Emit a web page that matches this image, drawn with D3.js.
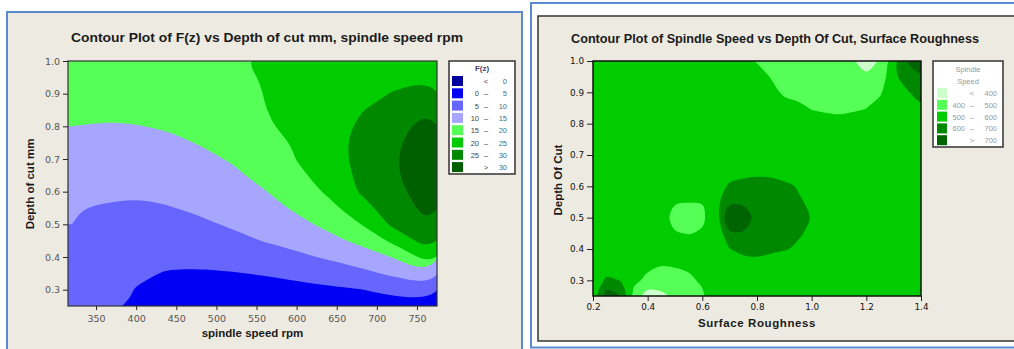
<!DOCTYPE html>
<html>
<head>
<meta charset="utf-8">
<script src="https://cdn.jsdelivr.net/npm/d3@7"></script>
<style>
  body { margin: 0; background: #fff; }
  svg { display: block; }
</style>
</head>
<body>
<svg id="chart" width="1014" height="349"></svg>
<script>
// ---------- left chart: F(z) vs depth of cut, spindle speed ----------
// grid columns (spindle speed rpm) and rows (depth of cut mm, top row first)
const fzSpeeds = [320, 360, 400, 440, 480, 520, 560, 600, 640, 680, 720, 760];
const fzDepths = [1.00, 0.95, 0.90, 0.85, 0.80, 0.75, 0.70, 0.65, 0.60, 0.55, 0.50, 0.45, 0.40, 0.35, 0.30, 0.25];
const fzGrid = [
  [17.0, 17.5, 18.0, 18.5, 19.0, 19.6, 20.5, 22.0, 23.0, 23.5, 24.0, 22.8],
  [16.5, 16.8, 17.2, 17.7, 18.2, 18.9, 20.3, 21.7, 23.1, 23.9, 24.5, 24.4],
  [16.0, 16.2, 16.5, 16.9, 17.5, 18.2, 20.1, 21.4, 23.2, 24.3, 25.1, 26.7],
  [15.5, 15.5, 15.7, 16.1, 16.7, 17.5, 19.9, 21.1, 23.3, 24.8, 27.0, 29.5],
  [15.0, 14.8, 14.9, 15.3, 16.0, 16.8, 19.7, 20.7, 23.5, 25.5, 28.4, 31.2],
  [14.1, 13.7, 13.8, 14.3, 15.2, 16.1, 18.5, 20.4, 23.5, 26.0, 29.2, 32.0],
  [13.2, 12.6, 12.7, 13.2, 14.2, 15.3, 17.3, 20.1, 23.1, 26.2, 29.5, 32.4],
  [12.2, 11.6, 11.6, 12.1, 13.0, 14.3, 16.1, 18.9, 22.2, 26.0, 29.4, 32.2],
  [11.2, 10.5, 10.4, 10.9, 11.8, 13.1, 14.8, 17.3, 20.8, 25.5, 28.8, 31.6],
  [10.1,  9.8,  9.4,  9.8, 10.7, 11.8, 13.3, 15.7, 18.6, 22.9, 27.8, 30.8],
  [10.0,  9.3,  8.5,  8.5,  9.3, 10.5, 11.7, 13.7, 16.2, 20.0, 26.0, 29.6],
  [ 9.4,  8.8,  7.6,  7.3,  7.7,  8.8, 10.2, 11.5, 13.6, 16.2, 21.1, 26.8],
  [ 8.9,  8.4,  6.7,  6.0,  6.1,  6.8,  7.8,  9.1, 10.6, 12.5, 15.2, 21.5],
  [ 8.4,  7.9,  5.7,  4.7,  4.6,  4.8,  5.3,  6.1,  7.2,  8.8, 10.9, 14.3],
  [ 8.0,  7.5,  4.8,  3.4,  3.0,  3.1,  3.3,  3.8,  4.3,  4.9,  6.0,  7.5],
  [ 7.5,  7.0,  4.0,  2.0,  1.5,  1.3,  1.5,  2.0,  2.5,  3.0,  3.5,  3.0]
];
const fzLevels = [0, 5, 10, 15, 20, 25, 30];
const fzColors = ["#00009c", "#0000f5", "#6666ff", "#a6a6ff", "#55ff55", "#00cc00", "#008800", "#006000"];
const fzSpeedTicks = [350, 400, 450, 500, 550, 600, 650, 700, 750];
const fzDepthTicks = [0.3, 0.4, 0.5, 0.6, 0.7, 0.8, 0.9, 1.0];

// ---------- right chart: spindle speed vs depth of cut, surface roughness ----------
const ssRough = [0.20, 0.25, 0.30, 0.35, 0.40, 0.45, 0.50, 0.55, 0.60, 0.65, 0.70, 0.75, 0.80,
                 0.85, 0.90, 0.95, 1.00, 1.05, 1.10, 1.15, 1.20, 1.25, 1.30, 1.35, 1.40];
const ssDepths = [1.00, 0.95, 0.90, 0.85, 0.80, 0.75, 0.70, 0.65, 0.60, 0.55, 0.50, 0.45, 0.40, 0.35, 0.30, 0.25];
const ssGrid = [
  [550, 550, 550, 550, 550, 550, 550, 550, 550, 550, 550, 540, 490, 460, 445, 435, 425, 415, 410, 405, 380, 405, 560, 705, 790],
  [550, 550, 550, 550, 550, 550, 550, 550, 550, 550, 550, 550, 550, 495, 465, 450, 440, 430, 425, 418, 410, 440, 575, 650, 677],
  [550, 550, 550, 550, 550, 550, 550, 550, 550, 550, 550, 550, 550, 540, 480, 470, 460, 455, 450, 452, 460, 490, 560, 590, 650],
  [550, 550, 550, 550, 550, 550, 550, 550, 550, 550, 550, 550, 550, 550, 550, 520, 495, 485, 480, 488, 499, 530, 555, 575, 570],
  [550, 550, 550, 550, 550, 550, 550, 550, 550, 550, 550, 550, 550, 550, 550, 550, 540, 535, 530, 535, 540, 550, 550, 550, 550],
  [550, 550, 550, 550, 550, 550, 550, 550, 550, 550, 550, 550, 550, 550, 550, 550, 550, 550, 550, 550, 550, 550, 550, 550, 550],
  [550, 550, 550, 550, 550, 550, 550, 550, 550, 550, 550, 550, 550, 550, 550, 550, 550, 550, 550, 550, 550, 550, 550, 550, 550],
  [550, 550, 550, 550, 550, 550, 550, 550, 550, 550, 555, 552, 572, 567, 535, 545, 550, 550, 550, 550, 550, 550, 550, 550, 550],
  [550, 550, 550, 550, 550, 550, 550, 550, 550, 550, 615, 648, 645, 642, 628, 590, 560, 550, 550, 550, 550, 550, 550, 550, 550],
  [550, 550, 550, 550, 550, 540, 505, 502, 502, 568, 674, 680, 655, 648, 640, 618, 575, 550, 550, 550, 550, 550, 550, 550, 550],
  [550, 550, 550, 550, 550, 530, 480, 460, 490, 540, 800, 760, 660, 650, 645, 632, 595, 560, 550, 550, 550, 550, 550, 550, 550],
  [550, 550, 550, 550, 550, 535, 505, 497, 507, 520, 680, 690, 650, 640, 630, 612, 580, 555, 550, 550, 550, 550, 550, 550, 550],
  [550, 550, 550, 550, 550, 550, 550, 550, 550, 530, 598, 625, 630, 625, 608, 585, 560, 550, 550, 550, 550, 550, 550, 550, 550],
  [550, 547, 545, 545, 530, 503, 506, 512, 530, 550, 555, 562, 570, 542, 528, 550, 550, 550, 550, 550, 550, 550, 550, 550, 550],
  [540, 615, 598, 530, 470, 470, 475, 488, 510, 545, 550, 550, 550, 550, 550, 550, 550, 550, 550, 550, 550, 550, 550, 550, 550],
  [519, 757, 697, 457, 355, 370, 430, 470, 490, 540, 550, 550, 550, 550, 550, 550, 550, 550, 550, 550, 550, 550, 550, 550, 550]
];
const ssLevels = [400, 500, 600, 700];
const ssColors = ["#ccffcc", "#55ff55", "#00cc00", "#008800", "#006400"];
const ssRoughTicks = [0.2, 0.4, 0.6, 0.8, 1.0, 1.2, 1.4];
const ssDepthTicks = [0.3, 0.4, 0.5, 0.6, 0.7, 0.8, 0.9, 1.0];

const W = 1014, H = 349;
const beige = "#edeae1";
const frameBlue = "#5a8ad0";

const svg = d3.select("#chart");
svg.append("rect").attr("width", W).attr("height", H).attr("fill", "#fff");

// panel frames
svg.append("rect")
  .attr("x", 7).attr("y", 12).attr("width", 515).attr("height", 350)
  .attr("fill", beige).attr("stroke", frameBlue).attr("stroke-width", 2);
svg.append("rect")
  .attr("x", 531).attr("y", 3).attr("width", 500).attr("height", 344.5)
  .attr("fill", "#fff").attr("stroke", frameBlue).attr("stroke-width", 2);
svg.append("rect")
  .attr("x", 538).attr("y", 16).attr("width", 490).attr("height", 325)
  .attr("fill", beige).attr("stroke", "#333").attr("stroke-width", 1.5);

// filled contour plot from a grid of values
function contourPlot(o) {
  const x = d3.scaleLinear().domain(o.xDomain).range([o.left, o.right]);
  const y = d3.scaleLinear().domain(o.yDomain).range([o.bottom, o.top]);
  const ny = o.grid.length, nx = o.grid[0].length;
  // d3.contours puts value i at grid coordinate i + 0.5
  const gx = d3.scaleLinear().domain([0.5, nx - 0.5]).range([o.gridX[0], o.gridX[nx - 1]]);
  const gy = d3.scaleLinear().domain([0.5, ny - 0.5]).range([o.gridY[0], o.gridY[ny - 1]]);
  const bands = d3.contours().size([nx, ny]).thresholds(o.levels)(o.grid.flat());
  const ring = d3.line()
    .x(p => x(gx(p[0])))
    .y(p => y(gy(p[1])))
    .curve(o.curve);

  svg.append("clipPath").attr("id", "clip-" + o.id)
    .append("rect")
    .attr("x", o.left).attr("y", o.top)
    .attr("width", o.right - o.left).attr("height", o.bottom - o.top);

  const plot = svg.append("g").attr("clip-path", `url(#clip-${o.id})`);
  plot.append("rect")
    .attr("x", o.left).attr("y", o.top)
    .attr("width", o.right - o.left).attr("height", o.bottom - o.top)
    .attr("fill", o.colors[0]);
  plot.selectAll("path")
    .data(bands)
    .join("path")
    .attr("fill", (d, i) => o.colors[i + 1])
    .attr("fill-rule", "evenodd")
    .attr("d", d => d.coordinates.flatMap(poly => poly.map(r => ring(r.slice(0, -1)))).join(""));

  const xAxis = svg.append("g")
    .attr("transform", `translate(0,${o.bottom})`)
    .call(d3.axisBottom(x).tickValues(o.xTicks).tickFormat(o.xFormat)
      .tickSize(o.tick).tickPadding(o.xPad));
  const yAxis = svg.append("g")
    .attr("transform", `translate(${o.left},0)`)
    .call(d3.axisLeft(y).tickValues(o.yTicks).tickFormat(d3.format(".1f"))
      .tickSize(o.tick + 1).tickPadding(o.yPad));
  [xAxis, yAxis].forEach(a => {
    a.select(".domain").remove();
    a.selectAll("line").attr("stroke", "#222");
    a.selectAll("text")
      .attr("font-family", o.tickFont).attr("font-size", o.tickSize)
      .attr("fill", o.tickColor);
  });

  svg.append("rect")
    .attr("x", o.left).attr("y", o.top)
    .attr("width", o.right - o.left).attr("height", o.bottom - o.top)
    .attr("fill", "none").attr("stroke", o.frameColor).attr("stroke-width", o.frameWidth);

  svg.append("text")
    .attr("x", o.titleX).attr("y", o.titleY)
    .attr("text-anchor", "middle")
    .attr("font-family", "Liberation Sans, Arial, sans-serif")
    .attr("font-weight", "bold").attr("font-size", 13)
    .attr("fill", "#1a1a1a")
    .attr("textLength", o.titleLen).attr("lengthAdjust", "spacingAndGlyphs")
    .text(o.title);

  svg.append("text")
    .attr("x", (o.left + o.right) / 2).attr("y", o.xLabelY)
    .attr("text-anchor", "middle")
    .attr("font-family", "Liberation Sans, Arial, sans-serif")
    .attr("font-weight", "bold").attr("font-size", 11.5)
    .attr("fill", "#1a1a1a")
    .attr("letter-spacing", o.xLabelSpacing)
    .text(o.xLabel);

  svg.append("text")
    .attr("transform", `translate(${o.yLabelX},${o.yLabelY}) rotate(-90)`)
    .attr("text-anchor", "middle")
    .attr("font-family", "Liberation Sans, Arial, sans-serif")
    .attr("font-weight", "bold").attr("font-size", 11.5)
    .attr("fill", "#1a1a1a")
    .text(o.yLabel);
}

// legend box: one row per band, "< a", "a - b", "> b"
function legend(o) {
  const g = svg.append("g").attr("font-family", "Liberation Sans, Arial, sans-serif");
  g.append("rect")
    .attr("x", o.x).attr("y", o.y).attr("width", o.w).attr("height", o.h)
    .attr("fill", "#fff").attr("stroke", "#333").attr("stroke-width", 1.5);
  o.title.forEach((t, i) => {
    g.append("text")
      .attr("x", o.x + o.w / 2).attr("y", o.titleY + i * 12)
      .attr("text-anchor", "middle").attr("font-size", o.titleSize)
      .attr("font-weight", o.titleWeight)
      .attr("fill", o.titleColor).text(t);
  });
  const n = o.levels.length;
  o.colors.forEach((c, i) => {
    const cy = o.rowY + i * o.rowStep;
    g.append("rect")
      .attr("x", o.x + o.swX).attr("y", cy - 5)
      .attr("width", o.swW).attr("height", 10).attr("fill", c);
    const txt = (x, anchor, s, fill) => g.append("text")
      .attr("x", x).attr("y", cy + 3)
      .attr("text-anchor", anchor).attr("font-size", 7.5)
      .attr("fill", fill).text(s);
    if (i === 0) {
      txt(o.x + o.symX, "middle", "<", o.textColor);
      txt(o.x + o.hiX, "end", o.levels[0], o.hiColor);
    } else if (i === n) {
      txt(o.x + o.symX, "middle", ">", o.textColor);
      txt(o.x + o.hiX, "end", o.levels[n - 1], o.hiColor);
    } else {
      txt(o.x + o.loX, "end", o.levels[i - 1], o.textColor);
      txt(o.x + o.symX, "middle", "\u2013", o.textColor);
      txt(o.x + o.hiX, "end", o.levels[i], o.hiColor);
    }
  });
}

contourPlot({
  id: "fz",
  grid: fzGrid, gridX: fzSpeeds, gridY: fzDepths,
  levels: fzLevels, colors: fzColors,
  curve: d3.curveBasisClosed,
  xDomain: [315, 775], yDomain: [0.25, 1.0],
  left: 68, right: 437, top: 61, bottom: 306,
  xTicks: fzSpeedTicks, xFormat: d3.format("d"),
  yTicks: fzDepthTicks,
  tick: 4, xPad: 5, yPad: 3,
  tickFont: "DejaVu Sans, Verdana, sans-serif", tickSize: 9.5, tickColor: "#555",
  frameColor: "#333", frameWidth: 1.2,
  title: "Contour Plot of F(z) vs Depth of cut mm, spindle speed rpm",
  titleX: 267, titleY: 42, titleLen: 392,
  xLabel: "spindle speed rpm", xLabelY: 337, xLabelSpacing: 0,
  yLabel: "Depth of cut mm", yLabelX: 34, yLabelY: 184
});

legend({
  x: 449, y: 61, w: 66, h: 113,
  title: ["F(z)"], titleY: 71, titleSize: 8, titleWeight: "bold", titleColor: "#4a3a6a",
  levels: fzLevels, colors: fzColors,
  rowY: 81, rowStep: 12.3, swX: 3, swW: 11,
  loX: 30, symX: 37, hiX: 58,
  textColor: "#444", hiColor: "#3f6f8a"
});

contourPlot({
  id: "ss",
  grid: ssGrid, gridX: ssRough, gridY: ssDepths,
  levels: ssLevels, colors: ssColors,
  curve: d3.curveCatmullRomClosed.alpha(0.5),
  xDomain: [0.2, 1.4], yDomain: [0.25, 1.0],
  left: 593, right: 921, top: 61, bottom: 296,
  xTicks: ssRoughTicks, xFormat: d3.format(".1f"),
  yTicks: ssDepthTicks,
  tick: 5, xPad: 3, yPad: 3,
  tickFont: "DejaVu Sans, Verdana, sans-serif", tickSize: 8.8, tickColor: "#111",
  frameColor: "#111", frameWidth: 1.5,
  title: "Contour Plot of Spindle Speed vs Depth Of Cut, Surface Roughness",
  titleX: 775, titleY: 43, titleLen: 408,
  xLabel: "Surface Roughness", xLabelY: 327, xLabelSpacing: 0.6,
  yLabel: "Depth Of Cut", yLabelX: 562, yLabelY: 180
});

legend({
  x: 933, y: 61, w: 70, h: 86,
  title: ["Spindle", "Speed"], titleY: 72, titleSize: 7.5, titleWeight: "normal", titleColor: "#999",
  levels: ssLevels, colors: ssColors,
  rowY: 93, rowStep: 11.8, swX: 4, swW: 10,
  loX: 32, symX: 39, hiX: 64,
  textColor: "#999", hiColor: "#999"
});
</script>
</body>
</html>
